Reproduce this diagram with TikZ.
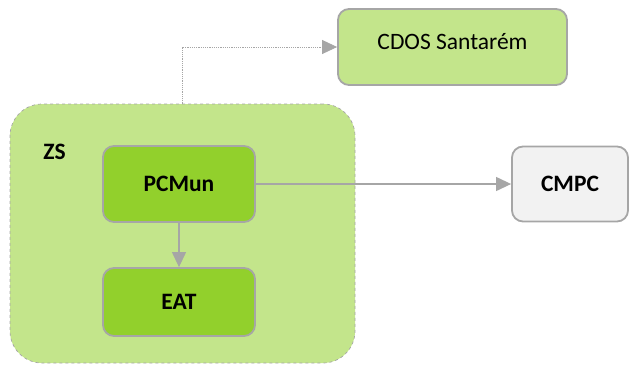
\documentclass[tikz,border=0pt]{standalone}
\usepackage{fontspec}
\setmainfont{Carlito}
\usetikzlibrary{arrows.meta,positioning}
\definecolor{cpale}{RGB}{195,229,139}
\definecolor{cleaf}{RGB}{146,208,44}
\definecolor{cline}{RGB}{166,166,166}
\definecolor{cgrey}{RGB}{242,242,242}
\newcommand{\boxfont}{\fontsize{23.5}{27}\selectfont}

\begin{document}
\begin{tikzpicture}[x=1pt,y=-1pt,
    unit/.style={draw=cline,line width=1.8pt,rounded corners=11pt,inner sep=0pt,
      minimum width=152pt,minimum height=76pt,font=\boxfont\bfseries},
    link/.style={draw=cline,line width=1.2pt,-{Triangle[length=15pt,width=14pt]}}]
    \useasboundingbox (0,0) rectangle (630,365);
    % zone
    \node[draw=cline,dashed,line width=0.7pt,fill=cpale,rounded corners=32pt,
      minimum width=345pt,minimum height=259pt] (zs) at (182.5,233.5) {};
    \node[font=\boxfont\bfseries] (zslab) at (54.5,152) {ZS};
    \node[unit,fill=cleaf] (pcmun) at (179,184) {PCMun};
    \node[unit,fill=cleaf,minimum height=68pt] (eat) at (179,302) {EAT};
    % outside
    \node[unit,fill=cpale,font=\boxfont,minimum width=229pt,text depth=11pt] (cdos) at (452.5,47) {CDOS Santarém};
    \node[unit,fill=cgrey,minimum width=116pt,minimum height=75pt] (cmpc) at (570,184) {CMPC};
    % links
    \draw[link] (pcmun) -- (eat);
    \draw[link] (pcmun) -- (cmpc);
    \draw[link,densely dotted,line width=0.8pt] (zs.north) |- (cdos.west);
\end{tikzpicture}
\end{document}
